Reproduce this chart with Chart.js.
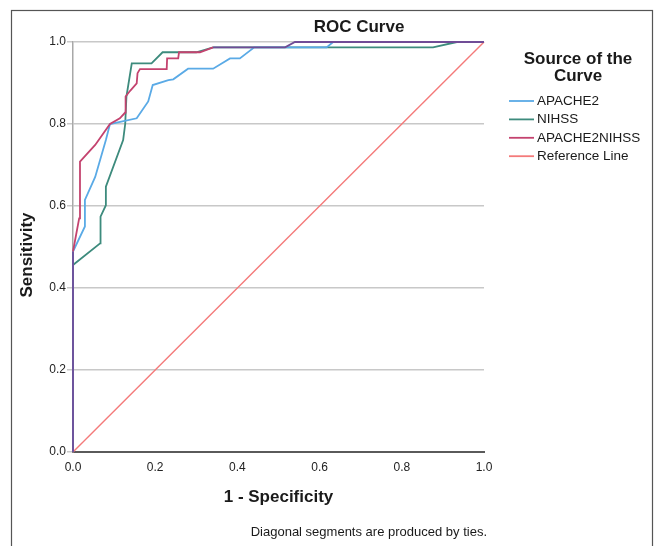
<!DOCTYPE html>
<html>
<head>
<meta charset="utf-8">
<script src="https://cdn.jsdelivr.net/npm/chart.js@4"></script>
<style>
body{margin:0;background:#fff;}
#wrap{width:658px;height:546px;}
</style>
</head>
<body>
<div id="wrap"><canvas id="rocChart" width="658" height="546"></canvas></div>
<script>

// ROC points (1 - specificity, sensitivity)
const apacheX = [0,0,0.029,0.029,0.054,0.08,0.09,0.155,0.183,0.194,0.232,0.244,0.28,0.341,0.382,0.406,0.441,0.617,0.633,1];
const apacheY = [0,0.489,0.55,0.615,0.671,0.761,0.80,0.814,0.855,0.895,0.907,0.909,0.935,0.935,0.96,0.96,0.987,0.987,1,1];

const nihssX = [0,0,0.066,0.067,0.08,0.08,0.122,0.127,0.13,0.143,0.191,0.218,0.30,0.341,0.876,0.934,1];
const nihssY = [0,0.456,0.509,0.574,0.602,0.647,0.761,0.80,0.867,0.948,0.948,0.975,0.975,0.987,0.987,1,1];

const comboX = [0,0,0.015,0.017,0.054,0.09,0.114,0.127,0.128,0.139,0.155,0.157,0.163,0.228,0.229,0.256,0.258,0.309,0.341,0.516,0.54,1];
const comboY = [0,0.489,0.57,0.708,0.749,0.80,0.814,0.828,0.867,0.881,0.899,0.924,0.934,0.934,0.96,0.96,0.975,0.975,0.987,0.987,1,1];

const refX = [0,1];
const refY = [0,1];

const seriesNames = ["APACHE2","NIHSS","APACHE2NIHSS","Reference Line"];
const seriesColors = ["#5aaae6","#3d8b7d","#c4436f","#f47a7a"];
const overlapColor = "#704c96";

const axisTicks = [0,0.2,0.4,0.6,0.8,1.0];

function pts(xs,ys){
return xs.map((x,i)=>({x:x,y:ys[i]}));
}

// where the curves run on top of each other the original shows purple
function overlapSeg(ctx){
const a = ctx.p0.parsed, b = ctx.p1.parsed;
if((a.x===0 && b.x===0) || (a.y>=0.987 && b.y>=0.987)) return overlapColor;
return undefined;
}

const FONT = "'Liberation Sans', Arial, sans-serif";

// titles, legend, footnote and frame drawn on top
const extras = {
id:"extras",
afterDraw(chart){
const c = chart.ctx;
const a = chart.chartArea;
c.save();
c.fillStyle = "#1a1a1a";
c.textBaseline = "middle";

c.font = "bold 17px " + FONT;
c.textAlign = "center";
c.fillText("ROC Curve",359,27);
c.fillText("1 - Specificity",(a.left+a.right)/2,497);

c.save();
c.translate(27,255);
c.rotate(-Math.PI/2);
c.fillText("Sensitivity",0,0);
c.restore();

// legend
c.fillText("Source of the",578,59);
c.fillText("Curve",578,76);
c.font = "13.5px " + FONT;
c.textAlign = "left";
chart.data.datasets.forEach((ds,i)=>{
const y = 101 + i*18.4;
c.strokeStyle = ds.borderColor;
c.lineWidth = 1.8;
c.beginPath();
c.moveTo(509,y);
c.lineTo(534,y);
c.stroke();
c.fillStyle = "#1a1a1a";
c.fillText(ds.label,537,y);
});

c.font = "13px " + FONT;
c.textAlign = "right";
c.fillText("Diagonal segments are produced by ties.",487,532);

c.strokeStyle = "#555";
c.lineWidth = 1.2;
c.strokeRect(11.5,10.5,641,600);
c.restore();
}
};

new Chart(document.getElementById("rocChart"),{

type:"scatter",

data:{

datasets:[
{label:seriesNames[0],data:pts(apacheX,apacheY),borderColor:seriesColors[0],backgroundColor:seriesColors[0],showLine:true,borderWidth:1.8,pointRadius:0,clip:false,order:1},
{label:seriesNames[1],data:pts(nihssX,nihssY),borderColor:seriesColors[1],backgroundColor:seriesColors[1],showLine:true,borderWidth:1.8,pointRadius:0,clip:false,order:2},
{label:seriesNames[2],data:pts(comboX,comboY),borderColor:seriesColors[2],backgroundColor:seriesColors[2],showLine:true,borderWidth:1.8,pointRadius:0,clip:false,order:0,segment:{borderColor:overlapSeg}},
{label:seriesNames[3],data:pts(refX,refY),borderColor:seriesColors[3],backgroundColor:seriesColors[3],showLine:true,borderWidth:1.4,pointRadius:0,clip:false,order:3}
]

},

options:{
responsive:false,
animation:false,
layout:{padding:{top:42,left:13,right:174,bottom:54}},
plugins:{legend:{display:false},title:{display:false},tooltip:{enabled:false}},
scales:{
x:{
type:"linear",min:0,max:1,
afterBuildTicks:s=>{s.ticks=axisTicks.map(v=>({value:v}));},
afterFit:s=>{s.height=40;},
grid:{display:true,drawOnChartArea:false,drawTicks:false},
border:{color:"#5a5a5a",width:2},
ticks:{padding:8,color:"#222",font:{family:FONT,size:12},callback:v=>v.toFixed(1)}
},
y:{
type:"linear",min:0,max:1,
afterBuildTicks:s=>{s.ticks=axisTicks.map(v=>({value:v}));},
afterFit:s=>{s.width=60;},
grid:{color:c=>c.tick&&c.tick.value===0?"rgba(0,0,0,0)":"#c8c8c8",tickColor:"#c8c8c8",lineWidth:1.5,tickLength:6},
border:{color:"#a8a8a8",width:1.5},
ticks:{padding:1,color:"#222",font:{family:FONT,size:12},callback:v=>v.toFixed(1)}
}
}
},

plugins:[extras]

});
</script>
</body>
</html>
